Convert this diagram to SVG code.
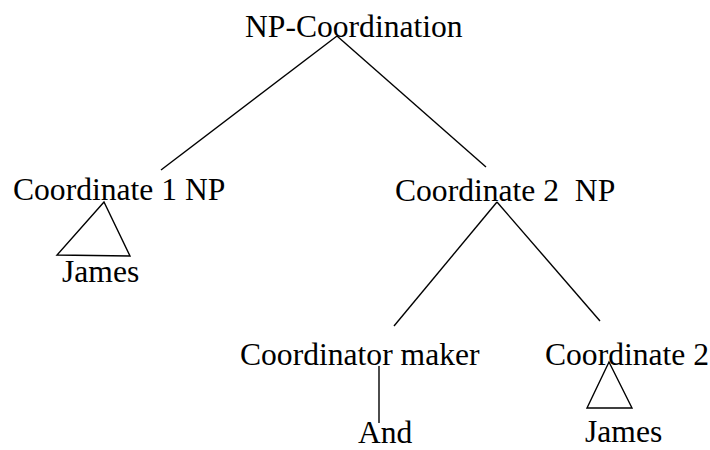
<svg xmlns="http://www.w3.org/2000/svg" width="710" height="450" viewBox="0 0 710 450">
<style>
text { font-family: "Liberation Serif", "Times New Roman", serif; font-size: 31.6px; fill: #000; white-space: pre; }
.ln { stroke: #000; stroke-width: 1.4; fill: none; }
</style>
<rect width="710" height="450" fill="#fff"/>
<g id="connectors">
<line class="ln" x1="337" y1="36" x2="161" y2="170"/>
<line class="ln" x1="337" y1="36" x2="486" y2="167"/>
<line class="ln" x1="497" y1="202" x2="394" y2="326"/>
<line class="ln" x1="497" y1="202" x2="600" y2="321"/>
<line class="ln" x1="379" y1="366" x2="379" y2="423"/>
<polygon class="ln" points="104,202 57,255 130,256"/>
<polygon class="ln" points="609,362 587,408 632,408"/>
</g>
<g id="root"><text x="245" y="37">NP-Coordination</text></g>
<g id="coord1"><text x="13" y="200">Coordinate 1 NP</text></g>
<g id="james1"><text x="62" y="282">James</text></g>
<g id="coord2"><text x="395" y="201">Coordinate 2  NP</text></g>
<g id="coordinator"><text x="240" y="365">Coordinator maker</text></g>
<g id="and"><text x="358" y="443">And</text></g>
<g id="coord2b"><text x="545" y="365">Coordinate 2</text></g>
<g id="james2"><text x="585" y="442">James</text></g>
</svg>
